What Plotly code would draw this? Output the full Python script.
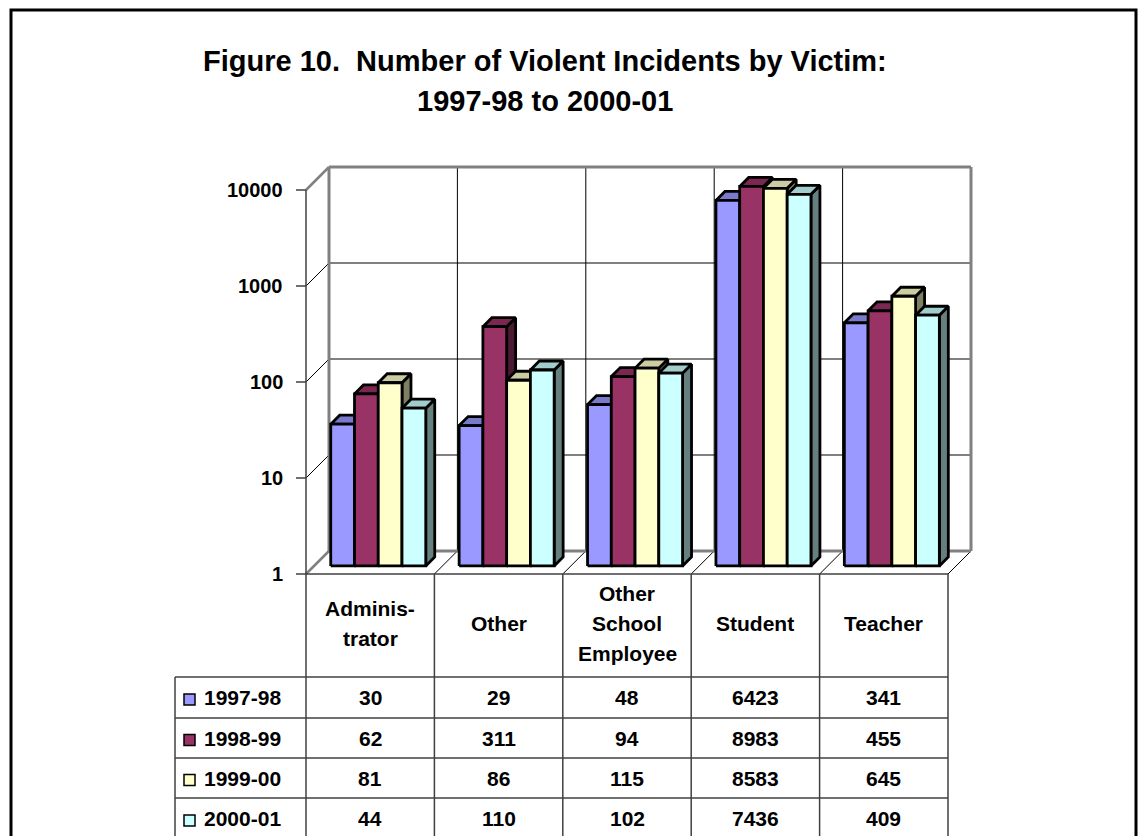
import numpy as np
import plotly.graph_objects as go

# ---- data -------------------------------------------------------------
categories = ["Administrator", "Other", "Other School Employee", "Student", "Teacher"]
header_lines = [["Adminis-", "trator"], ["Other"], ["Other", "School", "Employee"],
                ["Student"], ["Teacher"]]
series_names = ["1997-98", "1998-99", "1999-00", "2000-01"]
v_1997_98 = [30, 29, 48, 6423, 341]
v_1998_99 = [62, 311, 94, 8983, 455]
v_1999_00 = [81, 86, 115, 8583, 645]
v_2000_01 = [44, 110, 102, 7436, 409]
series_values = [v_1997_98, v_1998_99, v_1999_00, v_2000_01]
tick_values = [1, 10, 100, 1000, 10000]
tick_labels = ["1", "10", "100", "1000", "10000"]

# ---- styling -----------------------------------------------------------
face_colors = ["#9999FF", "#993366", "#FFFFCC", "#CCFFFF"]
FONT = "Arial, Liberation Sans, sans-serif"


def shade(hex_color, k):
    r, g, b = (int(hex_color[i:i + 2], 16) for i in (1, 3, 5))
    return "#%02X%02X%02X" % (int(r * k), int(g * k), int(b * k))


top_colors = [shade(c, 0.8) for c in face_colors]
side_colors = [shade(c, 0.5) for c in face_colors]

# ---- figure geometry (x in category units, y in log10 decades) ----------
W, H = 1143, 836
X0_PX, CAT_PX = 306, 128.4      # front-left corner of the floor, width of one category
Y0_PX, DEC_PX = 574, 96.0       # front baseline, height of one decade
DEPTH_PX = 23
DX, DY = DEPTH_PX / CAT_PX, DEPTH_PX / DEC_PX   # depth offset in axis units
n_cat = len(categories)
top_dec = np.log10(tick_values[-1])

GAP = 0.13
BAR_W = (1 - 2 * GAP) / len(series_names)
D0, D1 = 0.35, 0.74   # front / back depth of the bars


def px_x(p):
    return (p - X0_PX) / CAT_PX


def px_y(p):
    return (Y0_PX - p) / DEC_PX


fig = go.Figure()

# ---- 3D bars -----------------------------------------------------------
for i in range(n_cat):
    for j, vals in enumerate(series_values):
        h = np.log10(vals[i])
        xl = i + GAP + j * BAR_W
        xr = xl + BAR_W
        f = (D0 * DX, D0 * DY)
        b = (D1 * DX, D1 * DY)
        side_x = [xr + f[0], xr + b[0], xr + b[0], xr + f[0], xr + f[0]]
        side_y = [f[1], b[1], h + b[1], h + f[1], f[1]]
        top_x = [xl + f[0], xr + f[0], xr + b[0], xl + b[0], xl + f[0]]
        top_y = [h + f[1], h + f[1], h + b[1], h + b[1], h + f[1]]
        front_x = [xl + f[0], xr + f[0], xr + f[0], xl + f[0], xl + f[0]]
        front_y = [f[1], f[1], h + f[1], h + f[1], f[1]]
        for xs, ys, col in ((side_x, side_y, side_colors[j]),
                            (top_x, top_y, top_colors[j]),
                            (front_x, front_y, face_colors[j])):
            fig.add_trace(go.Scatter(
                x=xs, y=ys, mode="lines", fill="toself", fillcolor=col,
                line=dict(color="black", width=2.8), hoverinfo="skip",
                showlegend=False))

# ---- legend keys inside the data table --------------------------------
row_top = [px_y(677), px_y(718), px_y(758), px_y(798), px_y(839)]
row_mid = [(row_top[k] + row_top[k + 1]) / 2 for k in range(len(series_names))]
fig.add_trace(go.Scatter(
    x=[px_x(189.5)] * len(series_names), y=[m - px_y(0) + px_y(2) for m in row_mid],
    mode="markers",
    marker=dict(symbol="square", size=11, color=face_colors,
                line=dict(color="black", width=1.5)),
    hoverinfo="skip", showlegend=False))

shapes = []
GREY = "#808080"


def seg(x0, y0, x1, y1, color="black", width=1, layer="below"):
    shapes.append(dict(type="line", xref="x", yref="y", x0=x0, y0=y0, x1=x1, y1=y1,
                       line=dict(color=color, width=width), layer=layer))


# back wall grid
for k in range(1, len(tick_values) - 1):
    seg(DX, k + DY, n_cat + DX, k + DY)
    seg(0, k, DX, k + DY)            # side wall diagonals
for i in range(1, n_cat):
    seg(i + DX, DY, i + DX, top_dec + DY)
for i in range(1, n_cat + 1):
    seg(i, 0, i + DX, DY)            # floor diagonals
# wall and floor edges
seg(DX, DY, DX, top_dec + DY, GREY, 3)
seg(DX, top_dec + DY, n_cat + DX, top_dec + DY, GREY, 3)
seg(n_cat + DX, DY, n_cat + DX, top_dec + DY, GREY, 3)
seg(DX, DY, n_cat + DX, DY, GREY, 3)
seg(0, top_dec, DX, top_dec + DY, GREY, 2.5)
seg(0, 0, DX, DY, GREY, 2.5)
# value axis and ticks
seg(0, 0, 0, top_dec, "#404040", 1.5)
for t in tick_values:
    seg(px_x(296), np.log10(t), 0, np.log10(t), "#404040", 1.5)

# data table grid
TL = "#404040"
seg(0, 0, n_cat, 0, TL, 1.5, "above")
for i in range(n_cat + 1):
    seg(i, 0, i, row_top[-1], TL, 1.5, "above")
seg(px_x(175), row_top[0], px_x(175), row_top[-1], TL, 1.5, "above")
for yv in row_top[:-1]:
    seg(px_x(175), yv, n_cat, yv, TL, 1.5, "above")

# outer frame
shapes.append(dict(type="rect", xref="paper", yref="paper",
                   x0=11 / W, x1=1136 / W, y0=-0.02, y1=1 - 10 / H,
                   line=dict(color="black", width=3), layer="above"))

annotations = []


def label(x, y, text, size=21, xanchor="center"):
    annotations.append(dict(x=x, y=y, xref="x", yref="y", text="<b>%s</b>" % text,
                            showarrow=False, xanchor=xanchor, yanchor="middle",
                            font=dict(family=FONT, size=size, color="black")))


for t, tl in zip(tick_values, tick_labels):
    label(px_x(285), np.log10(t), tl, size=20, xanchor="right")

# category headers, one annotation per text line
header_mid_px = 623
LINE_PX = 30
for i, lines in enumerate(header_lines):
    n = len(lines)
    for k, ln in enumerate(lines):
        label(i + 0.5, px_y(header_mid_px + (k - (n - 1) / 2) * LINE_PX), ln)

for k, (name, vals) in enumerate(zip(series_names, series_values)):
    label(px_x(202), row_mid[k], name, xanchor="left")
    for i, v in enumerate(vals):
        label(i + 0.5, row_mid[k], str(v))

# title
label(px_x(545), px_y(61), "Figure 10.  Number of Violent Incidents by Victim:", size=29)
label(px_x(545), px_y(101), "1997-98 to 2000-01", size=29)

fig.update_layout(
    width=W, height=H, margin=dict(l=0, r=0, t=0, b=0),
    paper_bgcolor="white", plot_bgcolor="white",
    xaxis=dict(range=[px_x(0), px_x(W)], visible=False, fixedrange=True),
    yaxis=dict(range=[px_y(H), px_y(0)], visible=False, fixedrange=True),
    shapes=shapes, annotations=annotations, showlegend=False,
    hovermode=False,
)

fig.write_html("out.html")
